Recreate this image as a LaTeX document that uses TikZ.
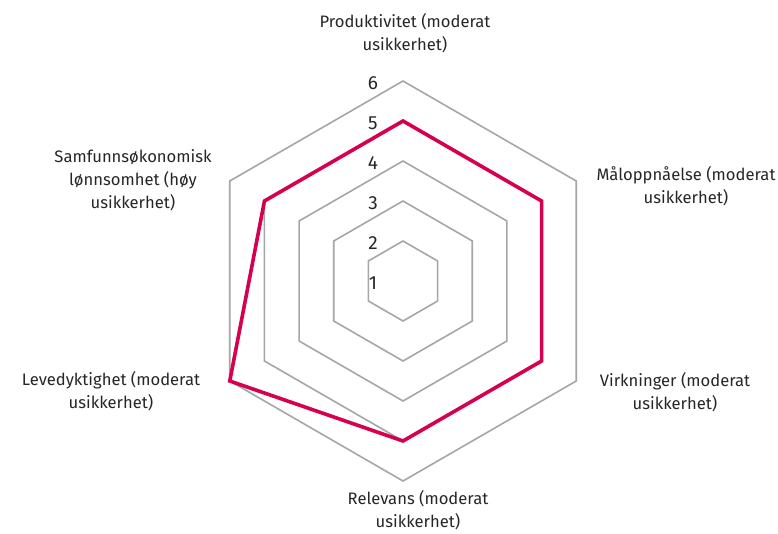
\documentclass[tikz,border=0pt]{standalone}
\usepackage{fontspec}
\setmainfont{Fira Sans}
\usetikzlibrary{calc}
\definecolor{gridgrey}{HTML}{A6A6A6}
\definecolor{seriesred}{HTML}{D60050}
\definecolor{labeltext}{HTML}{262626}
\tikzset{
  gridhex/.style={draw=gridgrey, line width=1.6pt, line join=miter},
  series/.style={draw=seriesred, line width=3.6pt, line join=miter},
  axlabel/.style={align=center, font=\fontsize{16.6}{23}\selectfont, text=labeltext, inner sep=0pt},
  ticklabel/.style={font=\fontsize{19}{20}\selectfont, text=labeltext, inner sep=0pt},
}
\begin{document}
\begin{tikzpicture}[x=1pt,y=1pt]
  \useasboundingbox (0,0) rectangle (778,-534);
  \fill[white] (0,0) rectangle (778,-534);
  \coordinate (C) at (403,-281);
  % grid hexagons (levels 2..6)
  \foreach \k in {2,...,6}{
    \pgfmathsetmacro\R{40*(\k-1)}
    \draw[gridhex, shift={(C)}] (90:\R) -- (30:\R) -- (-30:\R) -- (-90:\R) -- (-150:\R) -- (150:\R) -- cycle;
  }
  % tick labels
  \foreach \k in {1,...,6}{
    \node[ticklabel] (t\k) at (373,{-(283-40*(\k-1))}) {\k};
  }
  % data points
  \coordinate (dP) at ($(C)+(90:160)$);
  \coordinate (dM) at ($(C)+(30:160)$);
  \coordinate (dV) at ($(C)+(-30:160)$);
  \coordinate (dR) at ($(C)+(-90:160)$);
  \coordinate (dL) at ($(C)+(-150:200)$);
  \coordinate (dS) at ($(C)+(150:160)$);
  \draw[series] (dP) -- (dM) -- (dV) -- (dR) -- (dL) -- (dS) -- cycle;
  % axis labels
  \node[axlabel] (lP) at (405,-33.5) {Produktivitet (moderat\\usikkerhet)};
  \node[axlabel] (lM) at (686,-186) {Måloppnåelse (moderat\\usikkerhet)};
  \node[axlabel] (lV) at (675,-392) {Virkninger (moderat\\usikkerhet)};
  \node[axlabel] (lR) at (418,-510) {Relevans (moderat\\usikkerhet)};
  \node[axlabel] (lL) at (111,-391) {Levedyktighet (moderat\\usikkerhet)};
  \node[axlabel] (lS) at (133,-180) {Samfunnsøkonomisk\\lønnsomhet (høy\\usikkerhet)};
\end{tikzpicture}
\end{document}
